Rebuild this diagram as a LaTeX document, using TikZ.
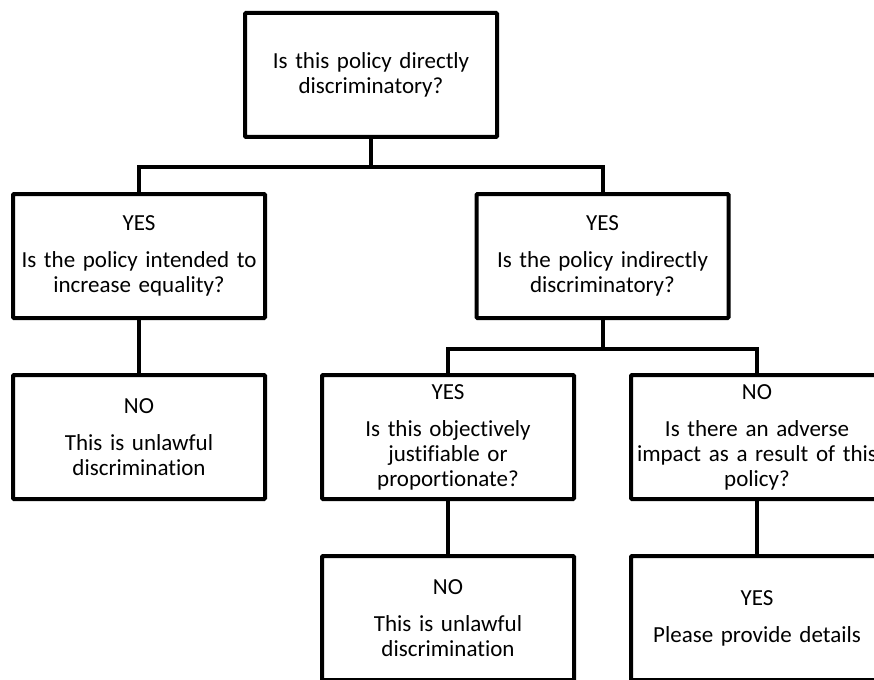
\documentclass[tikz,border=0pt]{standalone}
\usepackage{fontspec}
\setmainfont{Carlito}[Ligatures=NoCommon]
\usepackage{tikz}
\tikzstyle{question} = [rectangle, draw, line width=4pt, rounded corners=1pt, minimum width=252pt, minimum height=124pt, text width=248pt, align=center, inner sep=0pt, font=\fontsize{23}{25}\selectfont]
\tikzstyle{connector} = [line width=4pt]

\begin{document}
\begin{tikzpicture}[node distance=181pt, auto]

\useasboundingbox (0,0) rectangle (874pt,-679pt);
\clip (0,0) rectangle (874pt,-679pt);

\node (top)		[question] at (371pt,-75pt)				{Is this policy directly\\discriminatory?};
\node (yes1)	[question, below of=top, xshift=-232pt]		{YES\\[12pt]Is the policy intended to\\increase equality?};
\node (no1)		[question, below of=yes1]					{NO\\[12pt]This is unlawful\\discrimination};
\node (yes2)	[question, below of=top, xshift=231.5pt]	{YES\\[12pt]Is the policy indirectly\\discriminatory?};
\node (yes3)	[question, below of=yes2, xshift=-154.5pt]	{YES\\[12pt]Is this objectively\\justifiable or\\proportionate?};
\node (no3)		[question, below of=yes2, xshift=154.5pt]	{NO\\[12pt]Is there an adverse\\impact as a result of this\\policy?};
\node (no4)		[question, below of=yes3]					{NO\\[12pt]This is unlawful\\discrimination};
\node (yes4)	[question, below of=no3]					{YES\\[12pt]Please provide details};

\draw [connector] (top.south) -- ++(0,-28pt) -| (yes1.north);
\draw [connector] (top.south) -- ++(0,-28pt) -| (yes2.north);
\draw [connector] (yes1) -- (no1);
\draw [connector] (yes2.south) -- ++(0,-29pt) -| (yes3.north);
\draw [connector] (yes2.south) -- ++(0,-29pt) -| (no3.north);
\draw [connector] (yes3) -- (no4);
\draw [connector] (no3) -- (yes4);

\end{tikzpicture}
\end{document}
